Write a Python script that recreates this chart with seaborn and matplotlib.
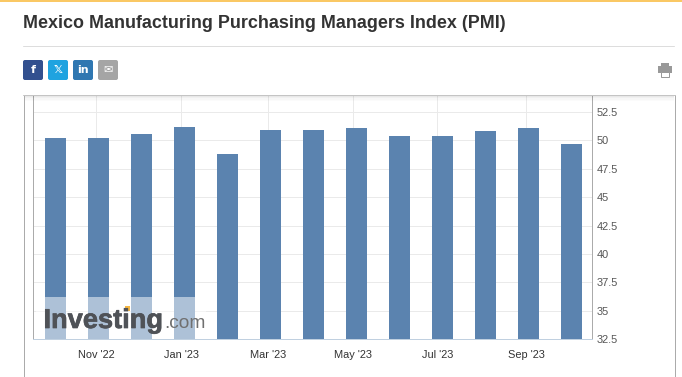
import matplotlib
matplotlib.use("Agg")
import matplotlib.pyplot as plt
import matplotlib.patheffects as pe
import pandas as pd
import seaborn as sns
from matplotlib.patches import Rectangle, FancyBboxPatch

months = ["Oct '22", "Nov '22", "Dec '22", "Jan '23", "Feb '23", "Mar '23", "Apr '23",
          "May '23", "Jun '23", "Jul '23", "Aug '23", "Sep '23", "Oct '23"]
pmi = [50.25, 50.25, 50.52, 51.22, 48.84, 50.96, 50.96, 51.05, 50.43, 50.43, 50.87, 51.13, 49.72]
# date ticks fall a little left of the bar centres
x_ticks = [0.95, 2.93, 4.95, 6.93, 8.88, 10.95]
x_labels = ["Nov '22", "Jan '23", "Mar '23", "May '23", "Jul '23", "Sep '23"]
y_ticks = [32.5, 35, 37.5, 40, 42.5, 45, 47.5, 50, 52.5]
y_labels = ["32.5", "35", "37.5", "40", "42.5", "45", "47.5", "50", "52.5"]
title = "Mexico Manufacturing Purchasing Managers Index (PMI)"

W, H = 682, 377
PX = 0.72  # one pixel line at 100 dpi
sns.set_theme(style="white")
plt.rcParams['font.family'] = ['Liberation Sans', 'DejaVu Sans']

fig = plt.figure(figsize=(W / 100, H / 100), dpi=100, facecolor="white")

# chart area, positions in pixels from the screenshot
left, right, top, bottom = 33, 592, 95, 339
ax = fig.add_axes([left / W, 1 - bottom / H, (right - left) / W, (bottom - top) / H])

df = pd.DataFrame({"month": months, "pmi": pmi})
sns.barplot(data=df, x="month", y="pmi", color="#5B83AF", saturation=1, width=0.49, linewidth=0, ax=ax, zorder=3)

ax.set_xlim(-0.523, 12.477)
ax.set_ylim(32.5, 54.0)
ax.set_xlabel("")
ax.set_ylabel("")
ax.set_xticks(x_ticks)
ax.set_xticklabels(x_labels, fontsize=7.95, color="#333333")
ax.yaxis.tick_right()
ax.set_yticks(y_ticks)
ax.set_yticklabels(y_labels, fontsize=7.95, color="#555555")
ax.tick_params(axis="y", length=0, pad=3.2)
ax.tick_params(axis="x", length=0, pad=8)
ax.grid(True, color="#EAEAEA", lw=PX)
ax.set_axisbelow(True)
ax.spines["top"].set_visible(False)
ax.spines["left"].set_color("#ABABAB")
ax.spines["right"].set_color("#ABABAB")
ax.spines["bottom"].set_color("#C0D0E0")
for s in ax.spines.values():
    s.set_linewidth(PX)

# page furniture on top, in pixel coordinates
ov = fig.add_axes([0, 0, 1, 1], facecolor="none")
ov.set_xlim(0, W)
ov.set_ylim(H, 0)
ov.axis("off")

ov.add_patch(Rectangle((0, 0), W, 2, color="#FAC864", lw=0))
ov.text(23, 23.5, title, fontsize=12.9, fontweight="bold", color="#333333", va="center", ha="left")
ov.plot([23, 674], [45.5, 45.5], color="#DDDDDD", lw=PX)

buttons = [(23, "#32508F", "f"), (48, "#1FA3E0", "𝕏"), (73, "#2F77B1", "in"), (98, "#A5A5A5", "✉")]
for bx, col, label in buttons:
    ov.add_patch(FancyBboxPatch((bx + 1, 61), 18, 18, boxstyle="round,pad=1,rounding_size=2", color=col, lw=0))
    ov.text(bx + 10, 70, label, color="white", fontsize=8, fontweight="bold", ha="center", va="center",
            family=["DejaVu Sans"])

# printer icon
ov.add_patch(Rectangle((661, 63), 8, 3, color="#999999", lw=0))
ov.add_patch(Rectangle((658, 66), 14, 7, color="#999999", lw=0))
ov.add_patch(Rectangle((661, 72), 8, 5, facecolor="white", edgecolor="#999999", lw=PX))

# outer frame of the chart, with the soft shadow under the header
ov.plot([23.5, 23.5], [95, H], color="#ABABAB", lw=PX)
ov.plot([674.5, 674.5], [95, H], color="#ABABAB", lw=PX)
ov.plot([23, 675], [94.5, 94.5], color="#C4C4C4", lw=PX)
for i, a in enumerate([0.09, 0.06, 0.03, 0.015]):
    ov.add_patch(Rectangle((24, 95 + i * 1.5), 650, 1.5, color="black", alpha=a, lw=0))

# watermark
ov.add_patch(Rectangle((36, 297), 170, 42, color="white", alpha=0.5, lw=0))
wm = ov.text(43.5, 328, "Investing", fontsize=19.6, fontweight="bold", color="#4F5257", va="baseline", ha="left")
wm.set_path_effects([pe.withStroke(linewidth=0.5, foreground="#4F5257")])
ov.text(164.5, 328, ".com", fontsize=13.8, color="#707070", va="baseline", ha="left")
ov.add_patch(Rectangle((124.5, 306), 5, 5, color="#F5B642", lw=0))

fig.savefig("out.png", dpi=100)
